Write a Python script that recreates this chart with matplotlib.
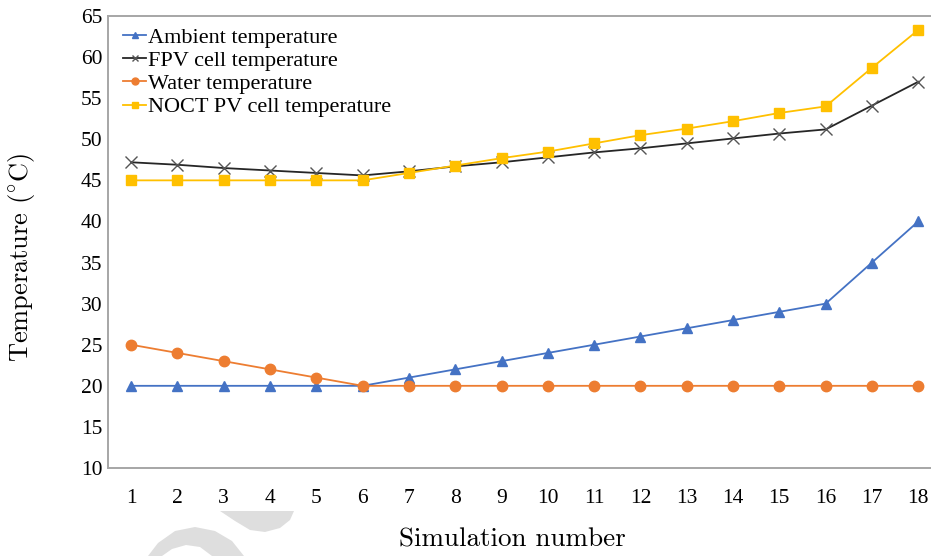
import matplotlib
matplotlib.use("Agg")
import matplotlib.pyplot as plt
from matplotlib.patches import Polygon

# Simulation data
sim_numbers = list(range(1, 19))
ambient_temp = [20, 20, 20, 20, 20, 20, 21, 22, 23, 24, 25, 26, 27, 28, 29, 30, 35, 40]
fpv_cell_temp = [47.2, 46.9, 46.5, 46.2, 45.9, 45.6, 46.1, 46.7, 47.2, 47.8, 48.4,
                 48.9, 49.5, 50.1, 50.7, 51.2, 54.1, 57.0]
water_temp = [25, 24, 23, 22, 21, 20, 20, 20, 20, 20, 20, 20, 20, 20, 20, 20, 20, 20]
noct_cell_temp = [45, 45, 45, 45, 45, 45, 45.9, 46.8, 47.7, 48.5, 49.5,
                  50.5, 51.3, 52.2, 53.2, 54.0, 58.7, 63.3]
y_ticks = [10, 15, 20, 25, 30, 35, 40, 45, 50, 55, 60, 65]

plt.rcParams["mathtext.fontset"] = "cm"
W, H = 931, 556
fig = plt.figure(figsize=(W / 100, H / 100), dpi=100)
ax = fig.add_axes([108 / W, 1 - 468 / H, 1 - 108 / W, (468 - 16) / H])

serif = ["Liberation Serif", "DejaVu Serif"]

ax.plot(sim_numbers, ambient_temp, color="#4472C4", lw=1.3, marker="^",
        ms=7, label="Ambient temperature", zorder=3)
ax.plot(sim_numbers, fpv_cell_temp, color="#262626", lw=1.3, marker="x",
        ms=8, mew=1.0, mec="#555555", label="FPV cell temperature", zorder=3)
ax.plot(sim_numbers, water_temp, color="#ED7D31", lw=1.3, marker="o",
        ms=7.5, label="Water temperature", zorder=3)
ax.plot(sim_numbers, noct_cell_temp, color="#FFC000", lw=1.3, marker="s",
        ms=7, label="NOCT PV cell temperature", zorder=3)

ax.set_xlim(0.5, 0.5 + (W - 108) / 46.3)
ax.set_ylim(10, 65)
ax.set_xticks(sim_numbers)
ax.set_xticklabels([str(n) for n in sim_numbers], fontfamily=serif, fontsize=15.5)
ax.set_yticks(y_ticks)
ax.set_yticklabels([str(v) for v in y_ticks], fontfamily=serif, fontsize=15.5)
ax.tick_params(axis="x", length=0, pad=15)
ax.tick_params(axis="y", length=0, pad=4)

for side in ["left", "bottom", "top"]:
    ax.spines[side].set_color("#a6a6a6")
    ax.spines[side].set_linewidth(1.4)
ax.spines["right"].set_visible(False)

ax.set_xlabel("Simulation number", fontfamily="cmr10", fontsize=19.5)
ax.xaxis.set_label_coords((512 - 108) / (W - 108), -(540 - 468) / (468 - 16))
ax.xaxis.label.set_va("center")
ax.set_ylabel(r"Temperature (${}^{\circ}$C)", fontfamily="cmr10", fontsize=19)
ax.yaxis.set_label_coords(-(108 - 22) / (W - 108), (468 - 257) / (468 - 16))
ax.yaxis.label.set_va("center")

leg = ax.legend(loc="upper left", bbox_to_anchor=(0.008, 0.995), frameon=False,
                prop={"family": serif, "size": 16}, handlelength=1.0,
                handletextpad=0.1, labelspacing=0.12, borderaxespad=0.3,
                borderpad=0.1)
for h in leg.legend_handles:
    h.set_markersize(5)

# Light grey watermark strokes along the lower-left edge
def px(points):
    return [(x / W, 1 - y / H) for x, y in points]

mark1 = px([(220, 511), (294, 511), (290, 520), (280, 528), (265, 532),
            (250, 530), (235, 521)])
mark2 = px([(148, 556), (158, 543), (175, 531), (195, 527), (215, 531),
            (232, 541), (244, 556), (212, 556), (200, 547), (186, 545),
            (172, 549), (162, 556)])
for pts in (mark1, mark2):
    fig.patches.append(Polygon(pts, closed=True, transform=fig.transFigure,
                               facecolor="#dedede", edgecolor="none", zorder=0))

fig.savefig("out.png", dpi=100)
